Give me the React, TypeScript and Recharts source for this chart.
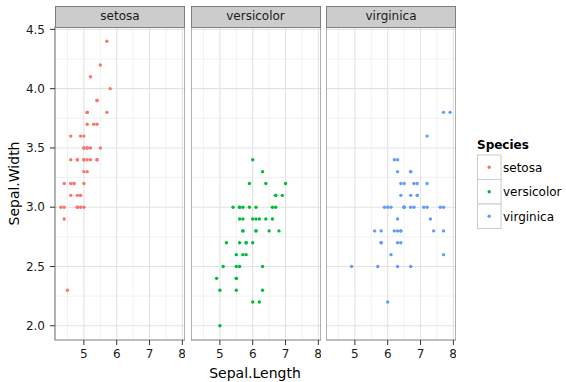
import React from 'react';
import {
  ScatterChart,
  Scatter,
  XAxis,
  YAxis,
  CartesianGrid,
  ReferenceArea,
} from 'recharts';

// Iris sepal measurements, faceted by species
const species = ['setosa', 'versicolor', 'virginica'];
const speciesColors = ['#F8766D', '#00BA38', '#619CFF'];

const setosaLength = [
  5.1, 4.9, 4.7, 4.6, 5.0, 5.4, 4.6, 5.0, 4.4, 4.9, 5.4, 4.8, 4.8, 4.3, 5.8, 5.7, 5.4,
  5.1, 5.7, 5.1, 5.4, 5.1, 4.6, 5.1, 4.8, 5.0, 5.0, 5.2, 5.2, 4.7, 4.8, 5.4, 5.2, 5.5,
  4.9, 5.0, 5.5, 4.9, 4.4, 5.1, 5.0, 4.5, 4.4, 5.0, 5.1, 4.8, 5.1, 4.6, 5.3, 5.0,
];
const setosaWidth = [
  3.5, 3.0, 3.2, 3.1, 3.6, 3.9, 3.4, 3.4, 2.9, 3.1, 3.7, 3.4, 3.0, 3.0, 4.0, 4.4, 3.9,
  3.5, 3.8, 3.8, 3.4, 3.7, 3.6, 3.3, 3.4, 3.0, 3.4, 3.5, 3.4, 3.2, 3.1, 3.4, 4.1, 4.2,
  3.1, 3.2, 3.5, 3.6, 3.0, 3.4, 3.5, 2.3, 3.2, 3.5, 3.8, 3.0, 3.8, 3.2, 3.7, 3.3,
];
const versicolorLength = [
  7.0, 6.4, 6.9, 5.5, 6.5, 5.7, 6.3, 4.9, 6.6, 5.2, 5.0, 5.9, 6.0, 6.1, 5.6, 6.7, 5.6,
  5.8, 6.2, 5.6, 5.9, 6.1, 6.3, 6.1, 6.4, 6.6, 6.8, 6.7, 6.0, 5.7, 5.5, 5.5, 5.8, 6.0,
  5.4, 6.0, 6.7, 6.3, 5.6, 5.5, 5.5, 6.1, 5.8, 5.0, 5.6, 5.7, 5.7, 6.2, 5.1, 5.7,
];
const versicolorWidth = [
  3.2, 3.2, 3.1, 2.3, 2.8, 2.8, 3.3, 2.4, 2.9, 2.7, 2.0, 3.0, 2.2, 2.9, 2.9, 3.1, 3.0,
  2.7, 2.2, 2.5, 3.2, 2.8, 2.5, 2.8, 2.9, 3.0, 2.8, 3.0, 2.9, 2.6, 2.4, 2.4, 2.7, 2.7,
  3.0, 3.4, 3.1, 2.3, 3.0, 2.5, 2.6, 3.0, 2.6, 2.3, 2.7, 3.0, 2.9, 2.9, 2.5, 2.8,
];
const virginicaLength = [
  6.3, 5.8, 7.1, 6.3, 6.5, 7.6, 4.9, 7.3, 6.7, 7.2, 6.5, 6.4, 6.8, 5.7, 5.8, 6.4, 6.5,
  7.7, 7.7, 6.0, 6.9, 5.6, 7.7, 6.3, 6.7, 7.2, 6.2, 6.1, 6.4, 7.2, 7.4, 7.9, 6.4, 6.3,
  6.1, 7.7, 6.3, 6.4, 6.0, 6.9, 6.7, 6.9, 5.8, 6.8, 6.7, 6.7, 6.3, 6.5, 6.2, 5.9,
];
const virginicaWidth = [
  3.3, 2.7, 3.0, 2.9, 3.0, 3.0, 2.5, 2.9, 2.5, 3.6, 3.2, 2.7, 3.0, 2.5, 2.8, 3.2, 3.0,
  3.8, 2.6, 2.2, 3.2, 2.8, 2.8, 2.7, 3.3, 3.2, 2.8, 3.0, 2.8, 3.0, 2.8, 3.8, 2.8, 2.8,
  2.6, 3.0, 3.4, 3.1, 3.0, 3.1, 3.1, 3.1, 2.7, 3.2, 3.3, 3.0, 2.5, 3.0, 3.4, 3.0,
];

const xTicks = [5, 6, 7, 8];
const yTicks = [2.0, 2.5, 3.0, 3.5, 4.0, 4.5];
const xMinor = [4.5, 5.5, 6.5, 7.5];
const yMinor = [2.25, 2.75, 3.25, 3.75, 4.25];
const xDomain: [number, number] = [4.12, 8.08];
const yDomain: [number, number] = [1.88, 4.52];

const lengths = [setosaLength, versicolorLength, virginicaLength];
const widths = [setosaWidth, versicolorWidth, virginicaWidth];

const FONT = '"DejaVu Sans", "Liberation Sans", Arial, sans-serif';
const CHART_H = 382;
const PANEL_TOP = 27;
const PANEL_W = 130;
const Y_AXIS_W = 55;
const panelLefts = [55, 190.5, 326];
const chartMargin = { top: PANEL_TOP, right: 0, bottom: 22, left: 0 };

const tickStyle = { fontSize: 12, fill: '#1a1a1a', fontFamily: FONT };

function Facet({ index }: { index: number }) {
  const first = index === 0;
  const data = lengths[index].map((x, i) => ({ x, y: widths[index][i] }));
  const color = speciesColors[index];
  const left = first ? 0 : panelLefts[index];
  const width = first ? Y_AXIS_W + PANEL_W : PANEL_W;
  return (
    <div style={{ position: 'absolute', left, top: 0 }}>
      <ScatterChart width={width} height={CHART_H} margin={chartMargin}>
        <CartesianGrid
          stroke="#f2f2f2"
          strokeWidth={1}
          horizontalValues={yMinor}
          verticalValues={xMinor}
          syncWithTicks={false}
        />
        <CartesianGrid
          stroke="#e3e3e3"
          strokeWidth={1.1}
          horizontalValues={yTicks}
          verticalValues={xTicks}
          syncWithTicks={false}
        />
        <XAxis
          type="number"
          dataKey="x"
          domain={xDomain}
          ticks={xTicks}
          allowDataOverflow
          axisLine={false}
          tickLine={{ stroke: '#333333' }}
          tickSize={5}
          tickMargin={4}
          height={20}
          tick={tickStyle}
        />
        <YAxis
          type="number"
          dataKey="y"
          domain={yDomain}
          ticks={yTicks}
          allowDataOverflow
          hide={!first}
          width={Y_AXIS_W}
          axisLine={false}
          tickLine={{ stroke: '#333333' }}
          tickSize={5}
          tickMargin={5}
          tickFormatter={(v: number) => v.toFixed(1)}
          tick={tickStyle}
        />
        <Scatter
          data={data}
          isAnimationActive={false}
          shape={(p: any) => <circle cx={p.cx} cy={p.cy} r={1.7} fill={color} />}
        />
        <ReferenceArea
          x1={xDomain[0]}
          x2={xDomain[1]}
          y1={yDomain[0]}
          y2={yDomain[1]}
          fill="none"
          fillOpacity={0}
          stroke="#7f7f7f"
          strokeWidth={1.2}
          ifOverflow="visible"
        />
      </ScatterChart>
      <div
        style={{
          position: 'absolute',
          left: first ? Y_AXIS_W : 0,
          top: 6,
          width: PANEL_W,
          height: 21.5,
          boxSizing: 'border-box',
          background: '#cccccc',
          border: '1px solid #7f7f7f',
          fontFamily: FONT,
          fontSize: 12,
          color: '#1a1a1a',
          textAlign: 'center',
          lineHeight: '19px',
        }}
      >
        {species[index]}
      </div>
    </div>
  );
}

function Decorations() {
  const keyTop = 155;
  const keyH = 24.5;
  return (
    <svg
      width={566}
      height={382}
      style={{ position: 'absolute', left: 0, top: 0, pointerEvents: 'none' }}
      fontFamily={FONT}
    >
      <text x={255} y={378} textAnchor="middle" fontSize={14} fill="#000">
        Sepal.Length
      </text>
      <text
        x={19}
        y={183.5}
        textAnchor="middle"
        fontSize={14}
        fill="#000"
        transform="rotate(-90 19 183.5)"
      >
        Sepal.Width
      </text>
      <text x={477} y={149} fontSize={12} fontWeight="bold" fill="#000">
        Species
      </text>
      {species.map((s, i) => (
        <g key={s}>
          <rect
            x={477.5}
            y={keyTop + i * keyH}
            width={23.5}
            height={keyH}
            fill="#ffffff"
            stroke="#cccccc"
          />
          <circle cx={489.2} cy={keyTop + i * keyH + keyH / 2} r={1.7} fill={speciesColors[i]} />
          <text x={503} y={keyTop + i * keyH + keyH / 2 + 4.3} fontSize={12} fill="#000">
            {s}
          </text>
        </g>
      ))}
    </svg>
  );
}

export default function App() {
  return (
    <div
      style={{
        position: 'absolute',
        left: 0,
        top: 0,
        width: 566,
        height: 382,
        background: '#ffffff',
        overflow: 'hidden',
      }}
    >
      {species.map((s, i) => (
        <Facet key={s} index={i} />
      ))}
      <Decorations />
    </div>
  );
}
